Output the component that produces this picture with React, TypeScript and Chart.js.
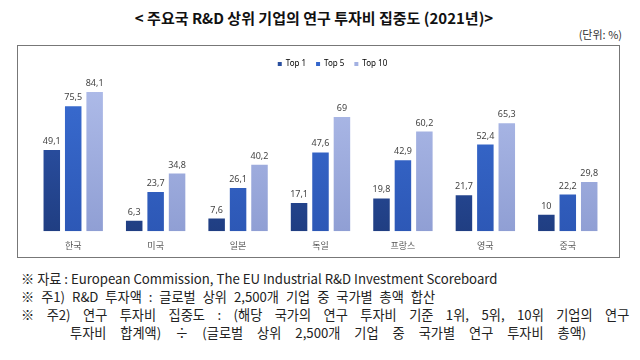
import React, { useEffect, useRef } from "react";
import { Chart, registerables } from "chart.js";

Chart.register(...registerables);

const categories = ["한국", "미국", "일본", "독일", "프랑스", "영국", "중국"];
const seriesNames = ["Top 1", "Top 5", "Top 10"];
const top1 = [49.1, 6.3, 7.6, 17.1, 19.8, 21.7, 10];
const top5 = [75.5, 23.7, 26.1, 47.6, 42.9, 52.4, 22.2];
const top10 = [84.1, 34.8, 40.2, 69, 60.2, 65.3, 29.8];
const seriesValues = [top1, top5, top10];

const titleText = "< 주요국 R&D 상위 기업의 연구 투자비 집중도 (2021년)>";
const unitText = "(단위: %)";
const notes = [
  "※ 자료 : European Commission, The EU Industrial R&D Investment Scoreboard",
  "※ 주1) R&D 투자액 : 글로벌 상위 2,500개 기업 중 국가별 총액 합산",
  "※ 주2) 연구 투자비 집중도 : (해당 국가의 연구 투자비 기준 1위, 5위, 10위 기업의 연구",
  "투자비 합계액) ÷ (글로벌 상위 2,500개 기업 중 국가별 연구 투자비 총액)",
];

const colorTop = ["#3059b4", "#3a6dd2", "#b0bdea"];
const colorBottom = ["#203e82", "#2d58b6", "#909fd4"];
const legendColor = ["#2a4f9e", "#3466cc", "#a3b1e2"];

const valueLabels = {
  id: "valueLabels",
  afterDatasetsDraw(chart: any) {
    const ctx = chart.ctx;
    ctx.save();
    ctx.font = "9px 'Noto Sans', sans-serif";
    ctx.fillStyle = "#444";
    ctx.textAlign = "center";
    ctx.textBaseline = "bottom";
    chart.data.datasets.forEach((ds: any, di: number) => {
      const meta = chart.getDatasetMeta(di);
      meta.data.forEach((bar: any, i: number) => {
        const v = ds.data[i];
        ctx.fillText(String(v).replace(".", ","), bar.x, bar.y - 4);
      });
    });
    ctx.restore();
  },
};

const legendShift = {
  id: "legendShift",
  afterLayout(chart: any) {
    if (chart.legend) {
      chart.legend.left += 24;
      chart.legend.top += 4;
      chart.legend.bottom += 4;
    }
  },
};

export default function App() {
  const ref = useRef<HTMLCanvasElement>(null);
  useEffect(() => {
    if (!ref.current) return;
    const chart = new Chart(ref.current, {
      type: "bar",
      data: {
        labels: categories,
        datasets: seriesValues.map((vals, k) => ({
          label: seriesNames[k],
          data: vals,
          backgroundColor: (c: any) => {
            const area = c.chart.chartArea;
            if (!area) return colorTop[k];
            const g = c.chart.ctx.createLinearGradient(0, area.top, 0, area.bottom);
            g.addColorStop(0, colorTop[k]);
            g.addColorStop(1, colorBottom[k]);
            return g;
          },
          categoryPercentage: 0.78,
          barPercentage: 0.77,
        })),
      },
      options: {
        animation: false,
        responsive: false,
        maintainAspectRatio: false,
        layout: { padding: { left: 14, right: 10, top: 0, bottom: -3 } },
        plugins: {
          legend: {
            position: "top",
            labels: {
              boxWidth: 4,
              boxHeight: 4,
              padding: 10,
              color: "#666",
              font: { size: 8, family: "'Noto Sans', sans-serif" },
              generateLabels: () =>
                seriesNames.map((n, k) => ({
                  text: n,
                  fillStyle: legendColor[k],
                  strokeStyle: legendColor[k],
                  lineWidth: 0,
                  datasetIndex: k,
                  hidden: false,
                })),
            },
          },
          tooltip: { enabled: false },
          title: { display: false },
        },
        scales: {
          x: {
            grid: { display: false, drawTicks: false },
            border: { display: false },
            ticks: {
              color: "#555",
              padding: 9,
              font: { size: 9, family: "'Noto Sans CJK KR', sans-serif" },
            },
          },
          y: {
            display: false,
            min: 0,
            max: 95,
          },
        },
      },
      plugins: [valueLabels, legendShift],
    });
    return () => chart.destroy();
  }, []);

  const noteStyle: React.CSSProperties = {
    position: "absolute",
    left: 21,
    fontSize: 13.2,
    fontFamily: "'Noto Sans CJK KR', sans-serif",
    color: "#222",
    whiteSpace: "nowrap",
    lineHeight: "18px",
  };

  return (
    <div style={{ position: "absolute", left: 0, top: 0, width: 640, height: 360, background: "#fff", overflow: "hidden" }}>
      <div
        style={{
          position: "absolute",
          left: 0,
          width: 628,
          top: 7,
          textAlign: "center",
          fontSize: 15,
          fontWeight: "bold",
          fontFamily: "'Noto Sans CJK KR', sans-serif",
          color: "#111",
          lineHeight: "22px",
        }}
      >
        {titleText}
      </div>
      <div
        style={{
          position: "absolute",
          right: 18,
          top: 27,
          fontSize: 11,
          fontFamily: "'Noto Sans CJK KR', sans-serif",
          color: "#333",
          lineHeight: "14px",
        }}
      >
        {unitText}
      </div>
      <div
        style={{
          position: "absolute",
          left: 17,
          top: 45,
          width: 601,
          height: 211,
          border: "1px solid #777",
        }}
      >
        <canvas ref={ref} width={601} height={211} style={{ display: "block", width: 601, height: 211 }} />
      </div>
      <div style={{ ...noteStyle, top: 270 }}>{notes[0]}</div>
      <div style={{ ...noteStyle, top: 288, wordSpacing: 4 }}>{notes[1]}</div>
      <div style={{ ...noteStyle, top: 306, wordSpacing: 9.5 }}>{notes[2]}</div>
      <div style={{ ...noteStyle, top: 324, left: 70, wordSpacing: 11 }}>{notes[3]}</div>
    </div>
  );
}
